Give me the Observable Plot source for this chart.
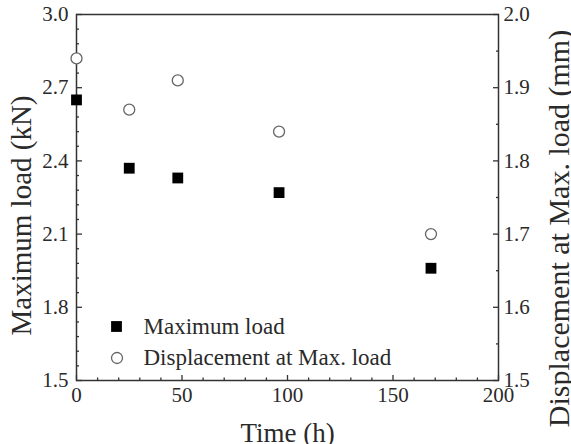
<!DOCTYPE html>
<html><head><meta charset="utf-8">
<script src="https://cdn.jsdelivr.net/npm/d3@7"></script>
<script src="https://cdn.jsdelivr.net/npm/@observablehq/plot@0.6"></script>
<style>body{margin:0;background:#fff}</style>
</head><body><div id="chart"></div>
<script>
const time = [0, 25, 48, 96, 168];
const maxLoad = [2.65, 2.37, 2.33, 2.27, 1.96];
const displacement = [1.94, 1.87, 1.91, 1.84, 1.70];

const xTicks = [0, 50, 100, 150, 200];
const xMinor = [10,20,30,40,60,70,80,90,110,120,130,140,160,170,180,190];
const loadTicks = [1.5, 1.8, 2.1, 2.4, 2.7, 3.0];
const loadMinor = [1.56,1.62,1.68,1.74,1.86,1.92,1.98,2.04,2.16,2.22,2.28,2.34,2.46,2.52,2.58,2.64,2.76,2.82,2.88,2.94];
const dispTicks = [1.5, 1.6, 1.7, 1.8, 1.9, 2.0];
const dispMinor = [1.55, 1.65, 1.75, 1.85, 1.95];

const xLabel = "Time (h)";
const yLabel = "Maximum load (kN)";
const y2Label = "Displacement at Max. load (mm)";
const legendLabels = ["Maximum load", "Displacement at Max. load"];

const loadDomain = [1.5, 3.0];
const dispDomain = [1.5, 2.0];
const k = (loadDomain[1] - loadDomain[0]) / (dispDomain[1] - dispDomain[0]);
const toLoad = d => loadDomain[0] + (d - dispDomain[0]) * k;
const fromLoad = v => dispDomain[0] + (v - loadDomain[0]) / k;

const rows = time.map((t, i) => ({t, load: maxLoad[i], disp: displacement[i]}));
const f1 = d3.format(".1f");
const ink = "#2a2a2a";
const font = "'Liberation Serif', 'Times New Roman', serif";

const chart = Plot.plot({
  width: 571, height: 444,
  marginLeft: 76, marginRight: 73, marginTop: 14, marginBottom: 64,
  style: {fontFamily: font, fontSize: "21px", color: ink, background: "white"},
  x: {domain: [0, 200]},
  y: {domain: loadDomain},
  marks: [
    // tick labels
    Plot.axisX(xTicks, {anchor: "bottom", tickSize: 0, tickPadding: 7, fontSize: 21, label: null, tickFormat: d3.format("d")}),
    Plot.axisY(loadTicks, {anchor: "left", tickSize: 0, tickPadding: 8, fontSize: 21, label: null, tickFormat: f1}),
    Plot.axisY(dispTicks.map(toLoad), {anchor: "right", tickSize: 0, tickPadding: 5, fontSize: 21, label: null, textAnchor: "start", tickFormat: v => f1(fromLoad(v))}),
    // inward ticks
    Plot.axisX(xTicks, {anchor: "bottom", tickSize: -5, fill: "none", stroke: "#333", strokeWidth: 1.3, label: null}),
    Plot.axisX(xMinor, {anchor: "bottom", tickSize: -2.5, fill: "none", stroke: "#333", strokeWidth: 1.3, label: null}),
    Plot.axisY(loadTicks, {anchor: "left", tickSize: -6, fill: "none", stroke: "#333", strokeWidth: 1.3, label: null}),
    Plot.axisY(loadMinor, {anchor: "left", tickSize: -3, fill: "none", stroke: "#333", strokeWidth: 1.3, label: null}),
    Plot.axisY(dispTicks.map(toLoad), {anchor: "right", tickSize: -6, fill: "none", stroke: "#333", strokeWidth: 1.3, label: null}),
    Plot.axisY(dispMinor.map(toLoad), {anchor: "right", tickSize: -3, fill: "none", stroke: "#333", strokeWidth: 1.3, label: null}),
    Plot.frame({stroke: "#333", strokeWidth: 1.5}),
    // data
    Plot.dot(rows, {x: "t", y: d => toLoad(d.disp), r: 5.5, fill: "white", stroke: "#666", strokeWidth: 1.3}),
    Plot.dot(rows, {x: "t", y: "load", symbol: "square", r: 6.1, fill: "#000", stroke: "none"}),
    // legend
    Plot.dot([legendLabels[0]], {frameAnchor: "bottom-left", dx: 40, dy: -54, symbol: "square", r: 6.1, fill: "#000", stroke: "none"}),
    Plot.dot([legendLabels[1]], {frameAnchor: "bottom-left", dx: 40.5, dy: -22.5, r: 5.5, fill: "white", stroke: "#666", strokeWidth: 1.3}),
    Plot.text([legendLabels[0]], {text: d => d, frameAnchor: "bottom-left", dx: 67, dy: -54, textAnchor: "start", lineAnchor: "middle", fontSize: 23, fill: ink}),
    Plot.text([legendLabels[1]], {text: d => d, frameAnchor: "bottom-left", dx: 67, dy: -22.5, textAnchor: "start", lineAnchor: "middle", fontSize: 23, fill: ink}),
    // axis titles
    Plot.text([xLabel], {text: d => d, frameAnchor: "bottom", dy: 61.5, textAnchor: "middle", lineAnchor: "bottom", fontSize: 27, fill: ink}),
    Plot.text([yLabel], {text: d => d, frameAnchor: "left", dx: -46, dy: 18, rotate: -90, textAnchor: "middle", lineAnchor: "bottom", fontSize: 29, fill: ink}),
    Plot.text([y2Label], {text: d => d, frameAnchor: "right", dx: 70, dy: 31, rotate: -90, textAnchor: "middle", lineAnchor: "bottom", fontSize: 30, fill: ink})
  ]
});
document.getElementById("chart").appendChild(chart);
</script>
</body></html>
